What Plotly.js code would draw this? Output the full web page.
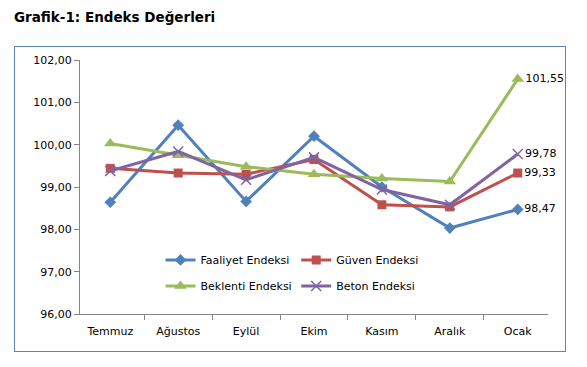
<!DOCTYPE html>
<html>
<head>
<meta charset="utf-8">
<script src="https://cdn.plot.ly/plotly-3.0.1.min.js"></script>
<style>
  html, body { margin: 0; padding: 0; background: #fff; }
  #wrap { position: relative; width: 587px; height: 367px; }
  #chart { position: absolute; left: 0; top: 0; width: 587px; height: 367px; }
  #frame { position: absolute; left: 14px; top: 46px; width: 550px; height: 304px;
           border: 1.5px solid #5B84B9; pointer-events: none; }
</style>
</head>
<body>
<div id="wrap">
  <div id="chart"></div>
  <div id="frame"></div>
</div>
<script>
const months = ["Temmuz", "Ağustos", "Eylül", "Ekim", "Kasım", "Aralık", "Ocak"];
const faaliyet = [98.64, 100.46, 98.66, 100.20, 99.00, 98.03, 98.47];
const guven    = [99.44, 99.33, 99.30, 99.65, 98.58, 98.53, 99.33];
const beklenti = [100.03, 99.75, 99.48, 99.30, 99.20, 99.13, 101.55];
const beton    = [99.38, 99.84, 99.17, 99.70, 98.94, 98.58, 99.78];

const FONT = "DejaVu Sans, Verdana, sans-serif";

function lastLabel(arr) {
  return arr.map((v, i) => i === arr.length - 1 ? v.toFixed(2).replace(".", ",") : "");
}

function series(name, y, color, symbol, msize, legend, group) {
  const isX = symbol === "x-thin";
  return {
    type: "scatter",
    mode: "lines+markers+text",
    name: name,
    x: months,
    y: y,
    text: lastLabel(y),
    textposition: "middle right",
    textfont: { family: FONT, size: 11, color: "#000" },
    cliponaxis: false,
    line: { color: color, width: 3 },
    marker: isX
      ? { symbol: symbol, size: msize, color: color, line: { color: color, width: 1.5 } }
      : { symbol: symbol, size: msize, color: color },
    legend: legend,
    legendgroup: group,
    hoverinfo: "x+y"
  };
}

const data = [
  series("Faaliyet Endeksi", faaliyet, "#4F81BD", "diamond", 9, "legend", "a"),
  series("Güven Endeksi", guven, "#C0504D", "square", 9, "legend2", "b"),
  series("Beklenti Endeksi", beklenti, "#9BBB59", "triangle-up", 11, "legend", "c"),
  series("Beton Endeksi", beton, "#8064A2", "x-thin", 10, "legend2", "d")
];

const layout = {
  width: 587,
  height: 367,
  margin: { l: 80, r: 39, t: 60, b: 53 },
  paper_bgcolor: "#fff",
  plot_bgcolor: "#fff",
  separators: ",.",
  font: { family: FONT, size: 11, color: "#000" },
  title: {
    text: "<b>Grafik-1: Endeks Değerleri</b>",
    font: { family: FONT, size: 13.5, color: "#000" },
    xref: "container", yref: "container",
    x: 14 / 587, xanchor: "left",
    y: 1 - 17 / 367, yanchor: "middle"
  },
  xaxis: {
    type: "category",
    showgrid: false,
    zeroline: false,
    showline: true,
    linecolor: "#868686",
    linewidth: 1,
    ticks: "outside",
    tickson: "boundaries",
    ticklen: 5,
    ticklabelstandoff: 7,
    tickcolor: "#868686",
    tickfont: { family: FONT, size: 11, color: "#000" }
  },
  yaxis: {
    range: [96, 102],
    dtick: 1,
    tickformat: ".2f",
    showgrid: false,
    zeroline: false,
    showline: true,
    linecolor: "#868686",
    linewidth: 1,
    ticks: "outside",
    ticklen: 5,
    tickcolor: "#868686",
    tickfont: { family: FONT, size: 11, color: "#000" }
  },
  showlegend: true,
  legend: {
    x: 0.172, xanchor: "left",
    y: 0.27, yanchor: "top",
    bgcolor: "rgba(0,0,0,0)",
    tracegroupgap: 7,
    itemwidth: 30,
    font: { family: FONT, size: 11, color: "#000" }
  },
  legend2: {
    x: 0.462, xanchor: "left",
    y: 0.27, yanchor: "top",
    bgcolor: "rgba(0,0,0,0)",
    tracegroupgap: 7,
    itemwidth: 30,
    font: { family: FONT, size: 11, color: "#000" }
  }
};

Plotly.newPlot("chart", data, layout, { displayModeBar: false, staticPlot: true });
</script>
</body>
</html>
